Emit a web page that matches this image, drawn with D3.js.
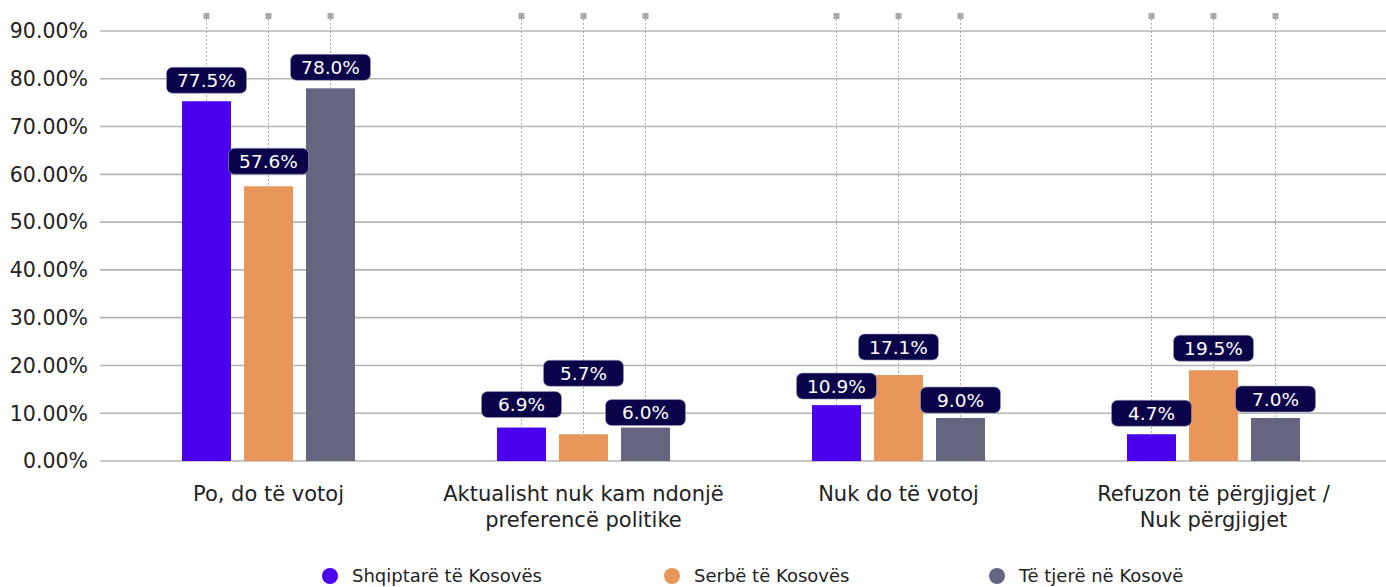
<!DOCTYPE html>
<html>
<head>
<meta charset="utf-8">
<script src="https://cdn.jsdelivr.net/npm/d3@7"></script>
<style>
    body { margin: 0; background: #fff; }
    svg { display: block; font-family: "DejaVu Sans", sans-serif; }
</style>
</head>
<body>
<div id="chart"></div>
<script>
// categories (x axis) and series
var categories = [
    ["Po, do të votoj"],
    ["Aktualisht nuk kam ndonjë", "preferencë politike"],
    ["Nuk do të votoj"],
    ["Refuzon të përgjigjet /", "Nuk përgjigjet"]
];
var seriesNames = ["Shqiptarë të Kosovës", "Serbë të Kosovës", "Të tjerë në Kosovë"];

// bar heights as drawn (percent)
var shqiptareBars = [75.3, 7.0, 11.7, 5.6];
var serbeBars = [57.5, 5.6, 18.0, 19.0];
var tjereBars = [78.0, 7.0, 9.0, 9.0];

// values printed in the labels
var shqiptareLabels = ["77.5%", "6.9%", "10.9%", "4.7%"];
var serbeLabels = ["57.6%", "5.7%", "17.1%", "19.5%"];
var tjereLabels = ["78.0%", "6.0%", "9.0%", "7.0%"];

var yTicks = [0, 10, 20, 30, 40, 50, 60, 70, 80, 90];

// layout only: space between bar top and label box, per series / category
var labelGap = [
    [8, 10, 6, 8],
    [12, 48, 15, 9],
    [8, 2, 5, 6]
];

var colors = ["#4b00ee", "#e8965a", "#656580"];

var width = 1386, height = 587;
var svg = d3.select("#chart").append("svg")
    .attr("width", width)
    .attr("height", height);

var y = d3.scaleLinear().domain([0, 90]).range([461, 31]);
var x0 = d3.scaleBand().domain(d3.range(categories.length)).range([111, 1371]);
var groupWidth = 173;
var x1 = d3.scaleBand().domain(d3.range(seriesNames.length)).range([0, groupWidth]).paddingInner(0.21);
var groupOffset = (x0.bandwidth() - groupWidth) / 2;

var bars = [shqiptareBars, serbeBars, tjereBars];
var labels = [shqiptareLabels, serbeLabels, tjereLabels];

// gridlines + y labels
var grid = svg.append("g");
grid.selectAll("line")
    .data(yTicks)
    .enter().append("line")
    .attr("x1", 100).attr("x2", width)
    .attr("y1", function (d) { return y(d); })
    .attr("y2", function (d) { return y(d); })
    .attr("stroke", "#b4b4b4")
    .attr("stroke-width", 1.6);

grid.selectAll("text")
    .data(yTicks)
    .enter().append("text")
    .attr("x", 88)
    .attr("y", function (d) { return y(d); })
    .attr("dy", "0.36em")
    .attr("text-anchor", "end")
    .attr("font-size", 20.5)
    .attr("fill", "#222")
    .text(function (d) { return d.toFixed(2) + "%"; });

// flatten to one record per bar
var records = [];
bars.forEach(function (vals, s) {
    vals.forEach(function (v, c) {
        records.push({ s: s, c: c, value: v, label: labels[s][c], gap: labelGap[s][c] });
    });
});

function cx(d) {
    return x0(d.c) + groupOffset + x1(d.s) + x1.bandwidth() / 2;
}

// dotted leader lines with square markers
var leaders = svg.append("g");
leaders.selectAll("line")
    .data(records)
    .enter().append("line")
    .attr("x1", cx).attr("x2", cx)
    .attr("y1", 19)
    .attr("y2", function (d) { return y(d.value); })
    .attr("stroke", "#aaa")
    .attr("stroke-width", 1)
    .attr("stroke-dasharray", "2,2");

leaders.selectAll("rect")
    .data(records)
    .enter().append("rect")
    .attr("x", function (d) { return cx(d) - 3; })
    .attr("y", 13)
    .attr("width", 6).attr("height", 6)
    .attr("fill", "#aaa");

// bars
svg.append("g").selectAll("rect")
    .data(records)
    .enter().append("rect")
    .attr("x", function (d) { return x0(d.c) + groupOffset + x1(d.s); })
    .attr("y", function (d) { return y(d.value); })
    .attr("width", x1.bandwidth())
    .attr("height", function (d) { return y(0) - y(d.value); })
    .attr("fill", function (d) { return colors[d.s]; });

// value labels
var lab = svg.append("g").selectAll("g")
    .data(records)
    .enter().append("g")
    .attr("transform", function (d) {
        return "translate(" + cx(d) + "," + (y(d.value) - d.gap - 13) + ")";
    });

lab.append("rect")
    .attr("x", -40).attr("y", -13)
    .attr("width", 80).attr("height", 26)
    .attr("rx", 6)
    .attr("fill", "#0a0349")
    .attr("stroke", "#9c9cb8")
    .attr("stroke-width", 0.6);

lab.append("text")
    .attr("text-anchor", "middle")
    .attr("dy", "0.36em")
    .attr("font-size", 18.5)
    .attr("fill", "#fff")
    .text(function (d) { return d.label; });

// category labels
var cat = svg.append("g").selectAll("text")
    .data(categories)
    .enter().append("text")
    .attr("x", function (d, i) { return x0(i) + x0.bandwidth() / 2; })
    .attr("y", 493)
    .attr("text-anchor", "middle")
    .attr("font-size", 21)
    .attr("fill", "#222");

cat.selectAll("tspan")
    .data(function (d) { return d; })
    .enter().append("tspan")
    .attr("x", function () { return d3.select(this.parentNode).attr("x"); })
    .attr("dy", function (d, i) { return i === 0 ? "0.36em" : 26; })
    .text(function (d) { return d; });

// legend
var legendX = [330, 672, 997];
var legend = svg.append("g").selectAll("g")
    .data(seriesNames)
    .enter().append("g")
    .attr("transform", function (d, i) { return "translate(" + legendX[i] + ",576)"; });

legend.append("circle")
    .attr("r", 8)
    .attr("fill", function (d, i) { return colors[i]; });

legend.append("text")
    .attr("x", 22)
    .attr("dy", "0.36em")
    .attr("font-size", 18)
    .attr("fill", "#222")
    .text(function (d) { return d; });
</script>
</body>
</html>
